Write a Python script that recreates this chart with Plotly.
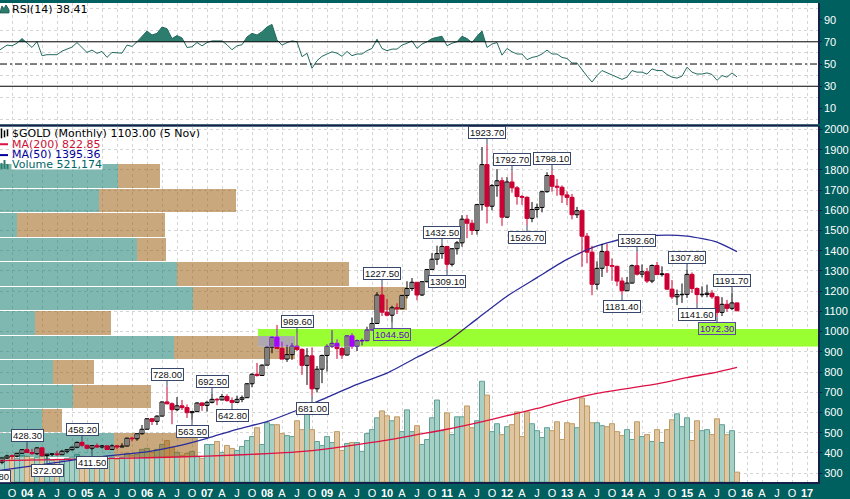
import plotly.graph_objects as go

# ---------------- data: $GOLD monthly, Jul 2003 .. Nov 2015 ----------------
first_year, first_month = 2003, 7

opens = [
    346, 354, 375, 385, 384, 398,
    416, 402, 396, 425, 387, 394, 395, 391, 408, 416, 428, 452,
    438, 423, 436, 429, 435, 417, 435, 429, 434, 473, 470, 495,
    517, 569, 556, 582, 652, 643, 614, 633, 624, 599, 604, 647,
    635, 650, 665, 662, 679, 659, 650, 665, 673, 742, 789, 783,
    834, 923, 972, 917, 864, 886, 928, 912, 833, 880, 717, 814,
    882, 927, 942, 916, 884, 979, 927, 955, 955, 1008, 1040, 1181,
    1096, 1081, 1118, 1113, 1179, 1213, 1244, 1181, 1247, 1307, 1358, 1386,
    1421, 1333, 1410, 1439, 1556, 1536, 1500, 1628, 1826, 1620, 1722, 1746,
    1566, 1740, 1711, 1668, 1664, 1560, 1604, 1614, 1692, 1772, 1719, 1714,
    1676, 1664, 1578, 1598, 1472, 1393, 1234, 1313, 1396, 1327, 1323, 1250,
    1202, 1240, 1326, 1284, 1296, 1250, 1327, 1282, 1286, 1210, 1172, 1183,
    1184, 1283, 1213, 1183, 1184, 1190, 1172, 1095, 1135, 1115, 1142,
]
highs = [
    368, 376, 391, 392, 400, 417,
    428.3, 420, 428, 427, 395, 397, 410, 415, 418, 432, 456, 458.2,
    439, 439, 447, 439, 436, 442, 438, 448, 475, 480, 496, 538,
    571, 573, 586, 654, 728, 650, 676, 662, 640, 608, 650, 650,
    658, 692.5, 672, 692, 690, 674, 683, 684, 746, 794, 845, 838,
    929, 975, 1033, 950, 934, 943, 989.6, 918, 918, 922, 830, 886,
    937, 1007, 962, 925, 980, 992, 961, 966, 1024, 1070, 1195, 1227.5,
    1162, 1128, 1140, 1181, 1249, 1265, 1245, 1250, 1310, 1388, 1425, 1432.5,
    1424, 1412, 1448, 1576, 1577, 1553, 1632, 1913, 1923.7, 1730, 1804, 1763,
    1764, 1792.7, 1720, 1676, 1669, 1641, 1633, 1696, 1788, 1798.1, 1755, 1723,
    1694, 1681, 1617, 1605, 1488, 1424, 1348, 1434, 1434, 1362, 1326, 1268,
    1270, 1332, 1392.6, 1332, 1315, 1332, 1345, 1323, 1288, 1255, 1208, 1238,
    1307.8, 1293, 1219, 1224, 1232, 1205, 1175, 1170, 1157, 1191.7, 1143,
]
lows = [
    342.8, 344, 370, 368, 378, 396,
    399, 392, 389, 381, 372, 383, 385, 390, 398, 412, 423, 430,
    418, 411.5, 424, 422, 414, 414, 418, 428, 432, 457, 460, 490,
    516, 538, 538, 581, 640, 542, 606, 612, 573, 563.5, 602, 608,
    604, 645, 636, 660, 653, 642.8, 648, 651, 672, 725, 777, 781,
    834, 893, 914, 867, 850, 860, 904, 786, 736, 681, 699, 745,
    802, 920, 865, 865, 882, 915, 904, 931, 952, 1004, 1038, 1077,
    1075, 1044.5, 1087, 1112, 1164, 1201, 1155, 1176, 1243, 1306, 1330, 1360,
    1309.1, 1322, 1381, 1420, 1462, 1478, 1480, 1600, 1535, 1600, 1667, 1523,
    1562, 1687, 1628, 1627, 1526.7, 1541, 1564, 1590, 1687, 1692, 1672, 1636,
    1626, 1555, 1562, 1321, 1338, 1180, 1208, 1270, 1291, 1251, 1225, 1181.4,
    1200, 1238, 1277, 1268, 1240, 1240, 1283, 1272, 1206, 1161, 1131, 1142,
    1167, 1191, 1141.6, 1170, 1170, 1162, 1072.3, 1077, 1098, 1106, 1101,
]
closes = [
    354, 375, 385, 384, 398, 416,
    402, 396, 425, 387, 394, 395, 391, 408, 416, 428, 452, 438,
    423, 436, 429, 435, 417, 435, 429, 434, 473, 470, 495, 517,
    569, 556, 582, 652, 643, 614, 633, 624, 599, 604, 647, 635,
    650, 665, 662, 679, 659, 650, 665, 673, 742, 789, 783, 834,
    923, 972, 917, 864, 886, 928, 912, 833, 880, 717, 814, 882,
    927, 942, 916, 884, 979, 927, 955, 955, 1008, 1040, 1181, 1096,
    1081, 1118, 1113, 1179, 1213, 1244, 1181, 1247, 1307, 1358, 1386, 1421,
    1333, 1410, 1439, 1556, 1536, 1500, 1628, 1826, 1620, 1722, 1746, 1566,
    1740, 1711, 1668, 1664, 1560, 1604, 1614, 1692, 1772, 1719, 1714, 1676,
    1664, 1578, 1598, 1472, 1393, 1234, 1313, 1396, 1327, 1323, 1250, 1202,
    1240, 1326, 1284, 1296, 1250, 1327, 1282, 1286, 1210, 1172, 1183, 1184,
    1283, 1213, 1183, 1184, 1190, 1172, 1095, 1135, 1115, 1142, 1103,
]
# volume, relative units (the price panel height = 360 units)
volume = [
    24, 25, 24, 26, 24, 27,
    26, 24, 25, 28, 24, 22, 23, 22, 24, 25, 28, 26,
    24, 25, 23, 22, 24, 25, 23, 25, 29, 27, 28, 33,
    34, 30, 33, 38, 42, 35, 30, 27, 29, 31, 26, 24,
    38, 38, 41, 30, 37, 34, 32, 36, 42, 46, 55, 38,
    60, 58, 58, 49, 47, 46, 62, 53, 77, 53, 41, 37,
    46, 40, 51, 32, 39, 40, 40, 31, 49, 53, 65, 72,
    67, 62, 66, 51, 73, 51, 57, 38, 43, 65, 83, 52,
    70, 48, 66, 66, 77, 55, 62, 102, 88, 51, 59, 48,
    56, 58, 71, 46, 71, 59, 52, 45, 55, 52, 61, 43,
    60, 59, 55, 85, 77, 60, 60, 57, 56, 59, 51, 47,
    53, 43, 61, 46, 48, 41, 53, 40, 53, 63, 69, 56,
    65, 42, 62, 52, 53, 48, 64, 58, 48, 52, 10,
]
rsi = [
    61.0, 64.3, 67.0, 66.4, 68.7, 72.9,
    68.7, 64.9, 70.2, 57.5, 58.4, 58.4, 58.4, 61.6, 63.4, 65.2, 69.3, 64.9,
    60.4, 62.5, 59.6, 61.3, 56.0, 60.4, 59.8, 59.8, 67.0, 65.8, 70.0, 74.7,
    79.7, 76.1, 77.6, 83.3, 81.8, 72.9, 75.6, 73.5, 64.9, 65.5, 69.3, 66.4,
    69.3, 70.8, 70.5, 70.8, 67.3, 62.8, 66.4, 67.3, 74.4, 77.6, 76.1, 79.1,
    83.3, 85.6, 71.7, 67.0, 69.3, 70.8, 70.0, 56.6, 59.6, 46.2, 53.0, 56.9,
    59.0, 61.0, 59.8, 56.9, 61.3, 57.5, 59.0, 59.0, 62.0, 64.0, 72.3, 64.0,
    62.0, 63.4, 63.4, 67.0, 68.7, 70.8, 64.0, 68.0, 70.0, 72.9, 74.0, 75.0,
    66.4, 68.7, 70.0, 75.0, 72.9, 69.3, 75.0, 79.7, 64.9, 68.0, 69.3, 58.0,
    64.0, 61.0, 59.0, 59.0, 53.9, 55.9, 56.9, 59.0, 62.5, 59.0, 59.0, 55.9,
    55.0, 50.9, 50.9, 44.7, 39.1, 33.8, 39.6, 44.1, 42.0, 40.6, 38.2, 36.2,
    38.2, 44.1, 42.7, 42.7, 40.9, 45.6, 44.1, 44.1, 40.6, 38.2, 37.3, 39.1,
    47.1, 42.7, 41.0, 41.0, 42.0, 40.6, 35.3, 39.6, 38.2, 42.0, 38.41,
]
rsi_ticks = [10, 30, 50, 70, 90]
price_ticks = list(range(300, 2001, 100))
# moving averages (month index since Jan 2004, value)
ma50_month = [-6, 0, 6, 12, 18, 24, 30, 36, 42, 48, 54, 60, 66, 72, 78, 84, 90, 96,
              102, 108, 114, 120, 126, 132, 138, 142]
ma50_value = [312, 332, 353, 374, 390, 405, 433, 472, 517, 555, 611, 675, 739, 795, 873,
              950, 1063, 1175, 1267, 1357, 1424, 1463, 1476, 1472, 1443, 1395.36]
ma200_month = [-6, 0, 12, 24, 36, 48, 54, 60, 66, 72, 78, 84, 90, 96, 102, 108, 114,
               120, 126, 132, 138, 142]
ma200_value = [362, 364, 370, 376, 384, 396, 405, 420, 441, 463, 490, 517, 549, 584, 620,
               660, 694, 718, 741, 772, 800, 822.85]
# volume by price (12 zones, highest price first); up = teal, down = tan
vbp_low, vbp_high = 378, 1829
vbp_up = [118, 99, 17, 137, 177, 193, 35, 174, 53, 73, 42, 114]
vbp_down = [42, 137, 148, 29, 172, 214, 76, 121, 41, 78, 20, 84]
# highlighted support band
band_lo, band_hi, band_start_month = 925, 1013, 46.2
# annotated swing highs / lows
peak_months = ['2004-01', '2004-12', '2006-05', '2007-02', '2008-07', '2009-12', '2010-12',
               '2011-09', '2012-02', '2012-10', '2014-03', '2015-01', '2015-10']
trough_months = ['2003-07', '2004-05', '2005-02', '2006-10', '2007-06', '2008-10', '2010-02',
                 '2011-01', '2012-05', '2013-12', '2015-03', '2015-07']
quarter_letters = {1: None, 4: 'A', 7: 'J', 10: 'O'}

# ---------------- geometry ----------------
W, H = 850, 499
MR, MB = 32, 14
PW, PH = W - MR, H - MB
def pyf(pix):            # pixel row -> paper y
    return (PH - pix) / PH
def pxf(pix):
    return pix / PW

YMIN, YMAX = 256.1, 2014.7
RSI_MIN, RSI_MAX = -4.4, 104.9
XMIN, XMAX = -5.4, 158.2
VOL_FULL = 360.0
VBP_FULL = float(PW)
price_dom = [pyf(485), pyf(125)]
rsi_dom = [pyf(123), 1.0]

n = len(closes)
m0 = (first_year - 2004) * 12 + first_month - 1
mi = [m0 + i for i in range(n)]
def month_index(label):
    y, mo = label.split('-')
    return (int(y) - 2004) * 12 + int(mo) - 1

RED, BLACK = '#cc0033', '#000000'
LIME = '#99ff33'
TEAL_BG = '#005f5f'
def xor(col):
    r, g, b = int(col[1:3], 16), int(col[3:5], 16), int(col[5:7], 16)
    return '#%02x%02x%02x' % (r ^ 0x66, g ^ 0x00, b ^ 0xCC)

# candle styles
body_base, body_len, body_fill, body_line = [], [], [], []
wick = {RED: ([], []), BLACK: ([], [])}
vol_fill, vol_line = [], []
for i in range(n):
    o, c = opens[i], closes[i]
    prev = closes[i - 1] if i > 0 else o
    col = RED if c < prev else BLACK
    hollow = c >= o
    lo_b, hi_b = min(o, c), max(o, c)
    if hi_b - lo_b < 2.5:
        lo_b, hi_b = (lo_b + hi_b) / 2 - 1.25, (lo_b + hi_b) / 2 + 1.25
    body_base.append(lo_b)
    body_len.append(hi_b - lo_b)
    body_fill.append('#ffffff' if hollow else col)
    body_line.append(col)
    wick[col][0].extend([mi[i], mi[i], None])
    wick[col][1].extend([lows[i], highs[i], None])
    up = c >= prev
    vol_fill.append('#a6cfc6' if up else '#dec6a2')
    vol_line.append('#5fa295' if up else '#c09a64')

fig = go.Figure()

# volume bars (scaled into the price panel)
vscale = (YMAX - YMIN) / VOL_FULL
fig.add_trace(go.Bar(x=mi, y=[v * vscale for v in volume], base=YMIN, width=1.0,
                     marker=dict(color=vol_fill, line=dict(color=vol_line, width=1)),
                     xaxis='x', yaxis='y', hoverinfo='skip'))

# volume by price
step = (vbp_high - vbp_low) / len(vbp_up)
zone_c = [vbp_high - (k + 0.5) * step for k in range(len(vbp_up))]
kx = (XMAX - XMIN) / VBP_FULL
up_len = [v * kx for v in vbp_up]
dn_len = [v * kx for v in vbp_down]
fig.add_trace(go.Bar(y=zone_c, x=up_len, base=XMIN, orientation='h', width=step * 0.96,
                     marker=dict(color='rgba(22,126,111,0.55)', line=dict(width=0)),
                     xaxis='x', yaxis='y', hoverinfo='skip'))
fig.add_trace(go.Bar(y=zone_c, x=dn_len, base=[XMIN + u for u in up_len], orientation='h',
                     width=step * 0.96,
                     marker=dict(color='rgba(155,97,17,0.55)', line=dict(width=0)),
                     xaxis='x', yaxis='y', hoverinfo='skip'))

# moving averages
MA200C, MA50C = '#dd1144', '#2b2b9c'
fig.add_trace(go.Scatter(x=ma200_month, y=ma200_value, mode='lines', line=dict(color=MA200C, width=1.3, shape='spline', smoothing=0.6),
                         xaxis='x', yaxis='y', hoverinfo='skip'))
fig.add_trace(go.Scatter(x=ma50_month, y=ma50_value, mode='lines', line=dict(color=MA50C, width=1.3, shape='spline', smoothing=0.6),
                         xaxis='x', yaxis='y', hoverinfo='skip'))

# candles
for col, (wx, wy) in wick.items():
    fig.add_trace(go.Scatter(x=wx, y=wy, mode='lines', line=dict(color=col, width=1),
                             xaxis='x', yaxis='y', hoverinfo='skip'))
fig.add_trace(go.Bar(x=mi, y=body_len, base=body_base, width=0.8,
                     marker=dict(color=body_fill, line=dict(color=body_line, width=1)),
                     xaxis='x', yaxis='y', hoverinfo='skip'))

# RSI panel
def zone_poly(xs, ys, level, above):
    pts = []
    for i in range(len(xs)):
        if i > 0:
            y0, y1 = ys[i - 1], ys[i]
            if (y0 - level) * (y1 - level) < 0:
                t = (level - y0) / (y1 - y0)
                pts.append((xs[i - 1] + t * (xs[i] - xs[i - 1]), level))
        pts.append((xs[i], max(ys[i], level) if above else min(ys[i], level)))
    px = [p[0] for p in pts] + [pts[-1][0], pts[0][0]]
    pv = [p[1] for p in pts] + [level, level]
    return px, pv

for level, above in ((70, True), (30, False)):
    px, pv = zone_poly(mi, rsi, level, above)
    fig.add_trace(go.Scatter(x=px, y=pv, fill='toself', fillcolor='#2d7d6e', mode='lines',
                             line=dict(width=0), xaxis='x', yaxis='y2', hoverinfo='skip'))
fig.add_trace(go.Scatter(x=mi, y=rsi, mode='lines', line=dict(color='#236a60', width=1),
                         xaxis='x', yaxis='y2', hoverinfo='skip'))

# highlighted band subplot (x2, y3): everything inside drawn with inverted colours
fig.add_trace(go.Bar(y=zone_c, x=up_len, base=XMIN, orientation='h', width=step * 0.96,
                     marker=dict(color=xor('#7fb8b0'), line=dict(width=0)),
                     xaxis='x2', yaxis='y3', hoverinfo='skip'))
fig.add_trace(go.Bar(y=zone_c, x=dn_len, base=[XMIN + u for u in up_len], orientation='h',
                     width=step * 0.96, marker=dict(color=xor('#c8a87c'), line=dict(width=0)),
                     xaxis='x2', yaxis='y3', hoverinfo='skip'))
fig.add_trace(go.Scatter(x=ma50_month, y=ma50_value, mode='lines',
                         line=dict(color=xor(MA50C), width=1.3, shape='spline', smoothing=0.6),
                         xaxis='x2', yaxis='y3', hoverinfo='skip'))
for col, (wx, wy) in wick.items():
    fig.add_trace(go.Scatter(x=wx, y=wy, mode='lines', line=dict(color=xor(col), width=1),
                             xaxis='x2', yaxis='y3', hoverinfo='skip'))
fig.add_trace(go.Bar(x=mi, y=body_len, base=body_base, width=0.8,
                     marker=dict(color=[xor(c) for c in body_fill],
                                 line=dict(color=[xor(c) for c in body_line], width=1)),
                     xaxis='x2', yaxis='y3', hoverinfo='skip'))

# ---------------- axes ----------------
GRID = dict(showgrid=True, gridcolor='#d4d4d4', gridwidth=1, griddash='3px,3px', zeroline=False)
NAVY = '#14204a'
TICKFONT = dict(family='Liberation Sans', size=11, color='white')
tickvals, ticktext = [], []
for m in range(-3, 160, 3):
    mo = (m % 12) + 1
    yr = 2004 + m // 12
    tickvals.append(m)
    ticktext.append('<b>%02d</b>' % (yr % 100) if mo == 1 else quarter_letters[mo])

band_y0 = price_dom[0] + (price_dom[1] - price_dom[0]) * (band_lo - YMIN) / (YMAX - YMIN)
band_y1 = price_dom[0] + (price_dom[1] - price_dom[0]) * (band_hi - YMIN) / (YMAX - YMIN)
band_x0 = (band_start_month - XMIN) / (XMAX - XMIN)

fig.update_layout(
    width=W, height=H, margin=dict(l=0, r=MR, t=0, b=MB, pad=0),
    paper_bgcolor=TEAL_BG, plot_bgcolor='#ffffff', showlegend=False,
    barmode='overlay', bargap=0,
    xaxis=dict(domain=[0, 1], range=[XMIN, XMAX], anchor='y', tickvals=tickvals, ticktext=ticktext,
               tickangle=0, tickfont=TICKFONT, ticks='', showline=True, linecolor=NAVY,
               linewidth=2, **GRID),
    yaxis=dict(domain=price_dom, range=[YMIN, YMAX], anchor='x', side='right',
               tickvals=price_ticks, tickfont=TICKFONT,
               ticks='outside', ticklen=2, tickcolor=NAVY, showline=True, linecolor=NAVY,
               linewidth=2, **GRID),
    yaxis2=dict(domain=rsi_dom, range=[RSI_MIN, RSI_MAX], anchor='x', side='right',
                tickvals=rsi_ticks, showticklabels=False,
                ticks='outside', ticklen=2, tickcolor=NAVY, showline=True, linecolor=NAVY,
                linewidth=2, showgrid=False, zeroline=False,
                minor=dict(tickvals=[0, 20, 40, 60, 80, 100], showgrid=True, gridcolor='#d4d4d4',
                           griddash='3px,3px', ticks='')),
    xaxis2=dict(domain=[band_x0, 1], range=[band_start_month, XMAX], anchor='y3', visible=False),
    yaxis3=dict(domain=[band_y0, band_y1], range=[band_lo, band_hi], anchor='x2', visible=False),
)

shapes = [
    dict(type='rect', xref='x2', yref='y3', x0=band_start_month, x1=XMAX, y0=band_lo, y1=band_hi,
         fillcolor=LIME, line=dict(width=0), layer='below'),
    dict(type='line', xref='paper', yref='paper', x0=0, x1=1, y0=pyf(124), y1=pyf(124),
         line=dict(color=NAVY, width=2)),
    dict(type='line', xref='paper', yref='y2', x0=0, x1=1, y0=70, y1=70, line=dict(color='black', width=1)),
    dict(type='line', xref='paper', yref='y2', x0=0, x1=1, y0=30, y1=30, line=dict(color='black', width=1)),
    dict(type='line', xref='paper', yref='y2', x0=0, x1=1, y0=50, y1=50,
         line=dict(color='black', width=1, dash='7px,3px,2px,3px')),
    # legend icons
    dict(type='line', xref='paper', yref='paper', x0=pxf(0), x1=pxf(8), y0=pyf(143), y1=pyf(143),
         line=dict(color=MA200C, width=2)),
    dict(type='line', xref='paper', yref='paper', x0=pxf(0), x1=pxf(8), y0=pyf(154), y1=pyf(154),
         line=dict(color='#000099', width=2)),
    dict(type='path', xref='paper', yref='paper',
         path='M %f,%f L %f,%f L %f,%f L %f,%f L %f,%f L %f,%f Z' % (
             pxf(0), pyf(10), pxf(2), pyf(3), pxf(4), pyf(6), pxf(6), pyf(2), pxf(9), pyf(7),
             pxf(9), pyf(10)),
         fillcolor='#2d7d6e', line=dict(color='#1d5d55', width=1)),
]
for k, (x0, h) in enumerate(((0.5, 6), (3.5, 9), (6.5, 5))):
    shapes.append(dict(type='rect', xref='paper', yref='paper', x0=pxf(x0), x1=pxf(x0 + 2),
                       y0=pyf(168), y1=pyf(168 - h), fillcolor='#2d7d6e', line=dict(width=0)))
for k, (x0, a, b) in enumerate(((1.5, 127, 137), (4.5, 129, 136), (7.5, 128, 135))):
    shapes.append(dict(type='line', xref='paper', yref='paper', x0=pxf(x0), x1=pxf(x0),
                       y0=pyf(a), y1=pyf(b), line=dict(color='black', width=1.5)))
fig.update_layout(shapes=shapes)

# ---------------- annotations ----------------
ann = []
# RSI axis labels, placed in paper coordinates of the RSI panel
for v in rsi_ticks:
    yp = rsi_dom[0] + (rsi_dom[1] - rsi_dom[0]) * (v - RSI_MIN) / (RSI_MAX - RSI_MIN)
    ann.append(dict(x=1 + 5.5 / PW, y=yp, xref='paper', yref='paper', text='%d' % v,
                    showarrow=False, xanchor='left', yanchor='middle', bgcolor=TEAL_BG,
                    borderpad=0, font=TICKFONT))

LEG = dict(family='DejaVu Sans', size=11)
def legend(text, ypix, color, bg=None):
    ann.append(dict(x=pxf(11), y=pyf(ypix), xref='paper', yref='paper', text=text,
                    showarrow=False, xanchor='left', yanchor='middle', bgcolor=bg,
                    borderpad=0, height=10, font=dict(color=color, **LEG)))
legend('RSI(14) 38.41', 6.5, 'black')
legend('$GOLD (Monthly) 1103.00 (5 Nov)', 132, 'black')
legend('MA(200) 822.85', 142.5, '#cc1133')
legend('MA(50) 1395.36', 153, '#000099')
legend('Volume 521,174', 163.5, '#006666', 'white')

price_per_px = (YMAX - YMIN) / (price_dom[1] - price_dom[0]) / PH
def callout(label, is_high):
    m = month_index(label)
    i = m - m0
    val = highs[i] if is_high else lows[i]
    off = -12 if is_high else 12
    centre = val - off * price_per_px
    inband = band_lo - 4 * price_per_px < centre < band_hi + 4 * price_per_px and m > band_start_month
    border = '#39486a'
    style = dict(text='%.2f' % val, font=dict(family='Liberation Sans', size=9.5,
                 color=xor(BLACK) if inband else '#111111'),
                 bgcolor=LIME if inband else 'white', bordercolor=xor(border) if inband else border,
                 borderwidth=1, borderpad=1, height=9)
    if m < XMIN:
        ann.append(dict(x=(m - XMIN) / (XMAX - XMIN) - 2.5 / PW, xref='paper', xanchor='center',
                        y=val, yref='y', yshift=-off, showarrow=False, **style))
    else:
        ann.append(dict(x=m, y=val, xref='x', yref='y', showarrow=True, arrowhead=0,
                        arrowwidth=1, arrowcolor=border, ax=0, ay=off, **style))
for lab in peak_months:
    callout(lab, True)
for lab in trough_months:
    callout(lab, False)
fig.update_layout(annotations=ann)

fig.write_html('out.html', config={'displayModeBar': False, 'staticPlot': True},
               post_script="document.body.style.margin='0';document.body.style.padding='0';"
                           "document.body.style.overflow='hidden';")
